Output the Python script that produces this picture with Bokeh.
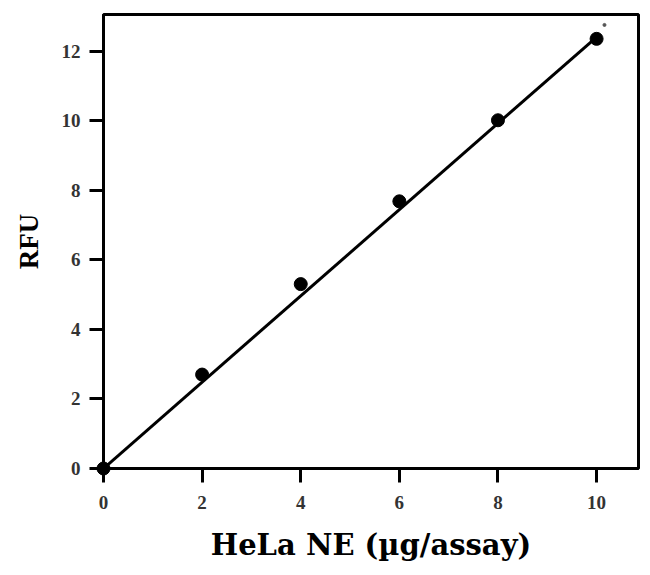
from bokeh.plotting import figure
from bokeh.models import ColumnDataSource, FixedTicker, Range1d
from bokeh.embed import file_html
from bokeh.resources import INLINE

# Data
hela_ne = [0, 2, 4, 6, 8, 10]
rfu = [0.0, 2.7, 5.3, 7.68, 10.01, 12.35]
fit_x = [0, 10]
fit_y = [0.0, 12.4]
stray_x = [10.16]
stray_y = [12.75]
x_ticks = [0, 2, 4, 6, 8, 10]
y_ticks = [0, 2, 4, 6, 8, 10, 12]

p = figure(width=642, height=567, output_backend="svg", toolbar_location=None,
           x_range=Range1d(0, 10.85), y_range=Range1d(0, 13.05),
           min_border_left=103, min_border_right=4, min_border_top=14, min_border_bottom=99)

p.background_fill_color = "white"
p.border_fill_color = "white"
p.outline_line_color = "black"
p.outline_line_width = 3
p.xgrid.visible = False
p.ygrid.visible = False

p.line(fit_x, fit_y, line_color="black", line_width=3)
p.scatter(hela_ne, rfu, size=13, color="black", level="overlay")
p.scatter(stray_x, stray_y, size=3, color="#555555")

for ax in (p.xaxis[0], p.yaxis[0]):
    ax.axis_line_color = "black"
    ax.axis_line_width = 3
    ax.major_tick_line_color = "black"
    ax.major_tick_line_width = 3
    ax.major_tick_out = 14
    ax.major_tick_in = 0
    ax.minor_tick_line_color = None
    ax.major_label_text_font = "Liberation Serif"
    ax.major_label_text_font_style = "bold"
    ax.major_label_text_font_size = "19px"
    ax.major_label_text_color = "#333333"
    ax.axis_label_text_color = "black"
    ax.axis_label_text_font_style = "bold"

p.xaxis.major_label_standoff = 13
p.yaxis.major_label_standoff = 9

p.xaxis.ticker = FixedTicker(ticks=x_ticks)
p.yaxis.ticker = FixedTicker(ticks=y_ticks)

p.xaxis.axis_label = "HeLa NE (µg/assay)"
p.xaxis.axis_label_text_font = "DejaVu Serif"
p.xaxis.axis_label_text_font_size = "29px"
p.xaxis.axis_label_standoff = 16

p.yaxis.axis_label = "RFU"
p.yaxis.axis_label_text_font = "Liberation Serif"
p.yaxis.axis_label_text_font_size = "27px"
p.yaxis.axis_label_standoff = 15

open("out.html", "w").write(file_html(p, INLINE))
